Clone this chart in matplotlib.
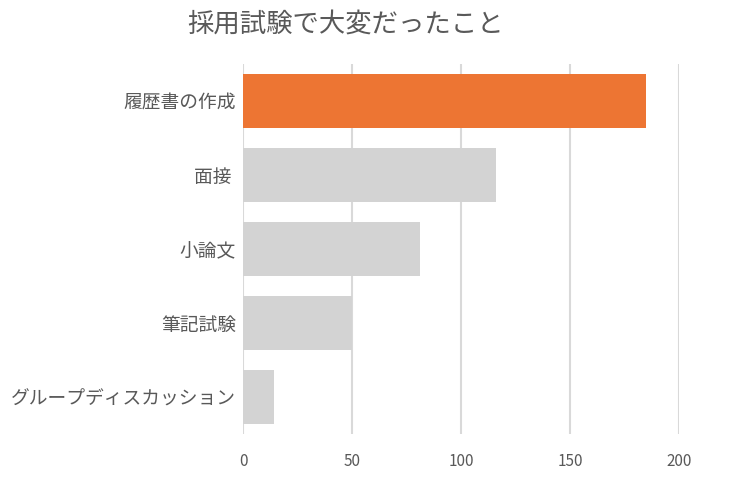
import matplotlib
matplotlib.use('Agg')
import matplotlib.pyplot as plt

plt.rcParams['font.family'] = ['Noto Sans CJK JP', 'DejaVu Sans']

categories = ['履歴書の作成', '面接 ', '小論文', '筆記試験', 'グループディスカッション']
values = [185, 116, 81, 50, 14]
colors = ['#ED7533', '#D3D3D3', '#D3D3D3', '#D3D3D3', '#D3D3D3']
x_ticks = [0, 50, 100, 150, 200]

fig = plt.figure(figsize=(7.3, 4.8), dpi=100)
ax = fig.add_axes([243 / 730, 1 - 434 / 480, (679 - 243) / 730, (434 - 64) / 480])

pos = list(range(len(categories)))
ax.barh(pos, values, height=0.74, color=colors, zorder=3)
ax.set_ylim(len(categories) - 0.5, -0.5)
ax.set_xlim(0, 200)
ax.set_yticks(pos)
ax.set_yticklabels(categories, fontsize=13.5, color='#595959')
ax.set_xticks(x_ticks)
ax.set_xticklabels([str(t) for t in x_ticks], fontsize=11, color='#595959')
ax.tick_params(axis='y', length=0, pad=5)
ax.tick_params(axis='x', length=0, pad=14)
ax.grid(axis='x', color='#D9D9D9', linewidth=1.5, zorder=0)
for s in ax.spines.values():
    s.set_visible(False)

fig.text(345 / 730, 1 - 24 / 480, '採用試験で大変だったこと', fontsize=19, color='#595959',
         ha='center', va='center')

fig.savefig('out.png', dpi=100)
